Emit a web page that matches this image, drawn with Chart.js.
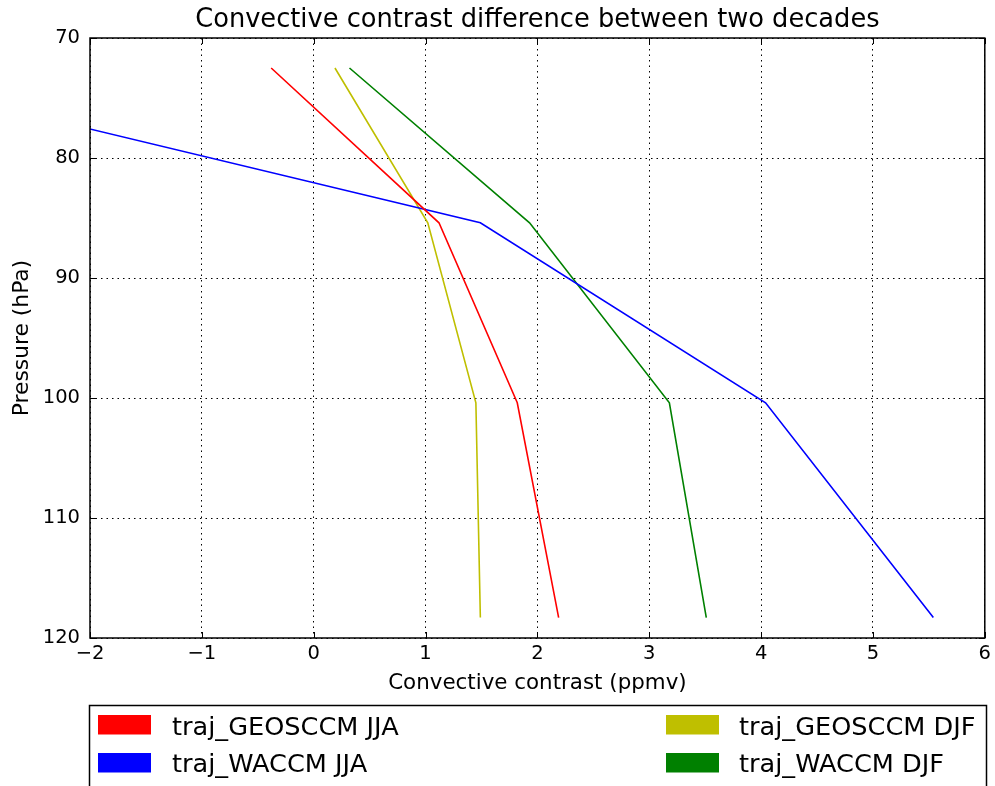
<!DOCTYPE html>
<html>
<head>
<meta charset="utf-8">
<script src="https://cdn.jsdelivr.net/npm/chart.js@4.4.1/dist/chart.umd.min.js"></script>
<style>
  html, body { margin: 0; padding: 0; background: #ffffff; }
  #wrap { width: 995px; height: 786px; position: relative; overflow: hidden; }
</style>
</head>
<body>
<div id="wrap"><canvas id="chart" width="995" height="786"></canvas></div>
<script>
// Pressure levels (hPa) shared by every profile
const pressureLevels = [72.5, 85.4, 100.4, 118.3];

// Convective contrast (ppmv) per profile
const geosccmJJA = [-0.38, 1.12, 1.82, 2.19];
const waccmJJA   = [-4.27, 1.49, 4.04, 5.54];
const geosccmDJF = [0.19, 1.02, 1.45, 1.49];
const waccmDJF   = [0.32, 1.93, 3.18, 3.51];

const seriesLabels = ['traj_GEOSCCM JJA', 'traj_WACCM JJA', 'traj_GEOSCCM DJF', 'traj_WACCM DJF'];
const seriesColors = ['#ff0000', '#0000ff', '#bfbf00', '#008000'];
const seriesValues = [geosccmJJA, waccmJJA, geosccmDJF, waccmDJF];

// Axis ticks
const xTicks = [-2, -1, 0, 1, 2, 3, 4, 5, 6];
const yTicks = [70, 80, 90, 100, 110, 120];

const FONT = 'DejaVu Sans';

const datasets = seriesValues.map((vals, i) => ({
  label: seriesLabels[i],
  data: vals.map((x, k) => ({ x: x, y: pressureLevels[k] })),
  borderColor: seriesColors[i],
  backgroundColor: seriesColors[i],
  borderWidth: 1.6,
  pointRadius: 0,
  showLine: true,
  fill: false,
  tension: 0
}));

// Frame around the plot plus inward tick marks on all four sides
const frameAndTicks = {
  id: 'frameAndTicks',
  afterDatasetsDraw(chart) {
    const { ctx, chartArea: a, scales } = chart;
    const len = 6;
    ctx.save();
    ctx.strokeStyle = '#000';
    ctx.lineWidth = 1;
    ctx.beginPath();
    scales.x.ticks.forEach(t => {
      const px = Math.round(scales.x.getPixelForValue(t.value)) + 0.5;
      ctx.moveTo(px, a.bottom); ctx.lineTo(px, a.bottom - len);
      ctx.moveTo(px, a.top); ctx.lineTo(px, a.top + len);
    });
    scales.y.ticks.forEach(t => {
      const py = Math.round(scales.y.getPixelForValue(t.value)) + 0.5;
      ctx.moveTo(a.left, py); ctx.lineTo(a.left + len, py);
      ctx.moveTo(a.right, py); ctx.lineTo(a.right - len, py);
    });
    ctx.stroke();
    ctx.lineWidth = 1.5;
    ctx.strokeRect(a.left, a.top, a.right - a.left, a.bottom - a.top);
    ctx.restore();
  }
};

// Boxed two-column legend below the axes (column-major order)
const boxedLegend = {
  id: 'boxedLegend',
  afterDraw(chart) {
    const { ctx } = chart;
    const boxL = 89.5, boxT = 705.5, boxR = 986.5;
    ctx.save();
    ctx.strokeStyle = '#000';
    ctx.lineWidth = 1.5;
    ctx.strokeRect(boxL, boxT, boxR - boxL, 200);
    ctx.font = '25.6px "' + FONT + '"';
    ctx.textBaseline = 'alphabetic';
    ctx.textAlign = 'left';
    const cols = [{ sw: 98, tx: 172 }, { sw: 666, tx: 739 }];
    const swatchTops = [715, 753];
    const baselines = [734.5, 772];
    chart.data.datasets.forEach((ds, i) => {
      const c = cols[Math.floor(i / 2)];
      const r = i % 2;
      ctx.fillStyle = ds.borderColor;
      ctx.fillRect(c.sw, swatchTops[r], 53, 19.5);
      ctx.fillStyle = '#000';
      ctx.fillText(ds.label, c.tx, baselines[r]);
    });
    ctx.restore();
  }
};

const minusSign = v => String(v).replace('-', '\u2212');

new Chart(document.getElementById('chart'), {
  type: 'scatter',
  data: { datasets },
  plugins: [frameAndTicks, boxedLegend],
  options: {
    responsive: false,
    animation: false,
    devicePixelRatio: 1,
    layout: { padding: { top: 0, right: 3, bottom: 86, left: 0 } },
    plugins: {
      legend: { display: false },
      tooltip: { enabled: false },
      title: {
        display: true,
        fullSize: false,
        text: 'Convective contrast difference between two decades',
        color: '#000',
        font: { family: FONT, size: 25.7, weight: 'normal' },
        padding: { top: 4.5, bottom: 2.66 }
      }
    },
    scales: {
      x: {
        type: 'linear',
        min: -2, max: 6,
        afterBuildTicks: s => { s.ticks = xTicks.map(v => ({ value: v })); },
        afterFit: s => { s.height = 62; },
        ticks: { color: '#000', font: { family: FONT, size: 19.5 }, padding: 4, callback: minusSign, maxRotation: 0 },
        grid: { color: '#000', lineWidth: 1, drawTicks: false },
        border: { display: false, dash: [1.5, 4] },
        title: { display: true, text: 'Convective contrast (ppmv)', color: '#000', font: { family: FONT, size: 21.4 }, padding: { top: 0, bottom: 4 } }
      },
      y: {
        type: 'linear',
        reverse: true,
        min: 70, max: 120,
        afterBuildTicks: s => { s.ticks = yTicks.map(v => ({ value: v })); },
        afterFit: s => { s.width = 90; },
        ticks: { color: '#000', font: { family: FONT, size: 19.5 }, padding: 10, callback: minusSign },
        grid: { color: '#000', lineWidth: 1, drawTicks: false },
        border: { display: false, dash: [1.5, 4] },
        title: { display: true, text: 'Pressure (hPa)', color: '#000', font: { family: FONT, size: 21.8 }, padding: { top: 9, bottom: 0 } }
      }
    }
  }
});
</script>
</body>
</html>
